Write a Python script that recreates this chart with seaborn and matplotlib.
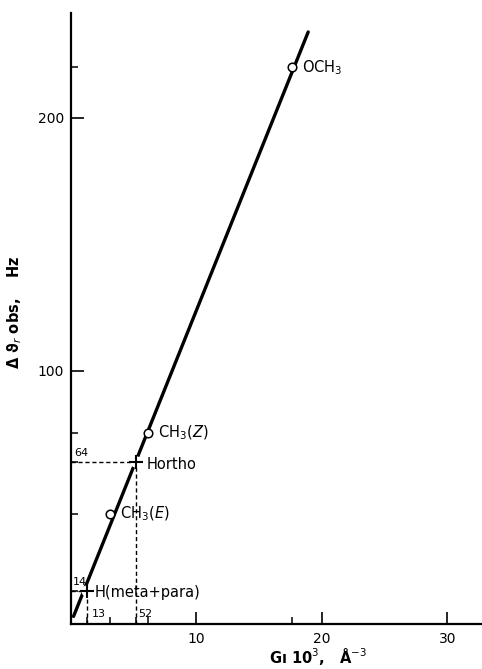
import matplotlib
matplotlib.use("Agg")
import matplotlib.pyplot as plt
import seaborn as sns
import pandas as pd
from matplotlib.ticker import FixedLocator

# ---- data ----
open_labels = ["OCH$_3$", "CH$_3$($Z$)", "CH$_3$($E$)"]
open_x = [17.6, 6.1, 3.1]
open_y = [220.0, 75.5, 43.5]

cross_labels = ["Hortho", "H(meta+para)"]
cross_x = [5.2, 1.3]
cross_y = [64.0, 13.0]
cross_value_labels_y = ["64", "14"]
cross_value_labels_x = ["52", "13"]

line_x = [0.2, 18.9]
line_y = [3.0, 234.0]

x_major = [10, 20, 30]
y_major = [100, 200]
x_minor = [1.3, 3.1, 5.2, 6.1, 17.6]
y_minor = [13.0, 43.5, 64.0, 75.5, 220.0]

# ---- figure ----
sns.set_theme(style="ticks")
plt.rcParams["font.family"] = ["DejaVu Sans"]
plt.rcParams["text.color"] = "black"
plt.rcParams["axes.labelcolor"] = "black"

fig = plt.figure(figsize=(4.82, 6.69), dpi=100)
ax = fig.add_axes([71 / 482, 1 - 624 / 669, 411 / 482, 611 / 669])

line_df = pd.DataFrame({"x": line_x, "y": line_y})
sns.lineplot(data=line_df, x="x", y="y", ax=ax, color="black", lw=2.4, zorder=2)

# dashed guide lines for the H points
for cx, cy in zip(cross_x, cross_y):
    ax.plot([0, cx], [cy, cy], ls=(0, (3, 2)), color="black", lw=1.0, zorder=1)
    ax.plot([cx, cx], [0, cy], ls=(0, (3, 2)), color="black", lw=1.0, zorder=1)

cross_df = pd.DataFrame({"x": cross_x, "y": cross_y})
# small white gap behind the crosses
sns.scatterplot(data=cross_df, x="x", y="y", ax=ax, marker="o", s=70,
                color="white", edgecolor="none", linewidth=0, zorder=3)
sns.scatterplot(data=cross_df, x="x", y="y", ax=ax, marker="+", s=110,
                color="black", linewidth=1.5, zorder=4)

open_df = pd.DataFrame({"x": open_x, "y": open_y})
sns.scatterplot(data=open_df, x="x", y="y", ax=ax, marker="o", s=38,
                facecolor="white", edgecolor="black", linewidth=1.1, zorder=5)

# labels of points
fs = 10.5
ax.text(open_x[0] + 0.8, open_y[0], open_labels[0], fontsize=fs, va="center", ha="left")
ax.text(open_x[1] + 0.8, open_y[1], open_labels[1], fontsize=fs, va="center", ha="left")
ax.text(open_x[2] + 0.8, open_y[2], open_labels[2], fontsize=fs, va="center", ha="left")
ax.text(cross_x[0] + 0.8, cross_y[0] - 1.0, cross_labels[0], fontsize=fs, va="center", ha="left")
ax.text(cross_x[1] + 0.6, cross_y[1] - 0.5, cross_labels[1], fontsize=fs, va="center", ha="left")

# small value annotations
sfs = 8
ax.text(0.25, cross_y[0] + 1.5, cross_value_labels_y[0], fontsize=sfs, va="bottom", ha="left")
ax.text(0.15, cross_y[1] + 1.5, cross_value_labels_y[1], fontsize=sfs, va="bottom", ha="left")
ax.text(cross_x[0] + 0.15, 2.0, cross_value_labels_x[0], fontsize=sfs, va="bottom", ha="left")
ax.text(cross_x[1] + 0.35, 2.0, cross_value_labels_x[1], fontsize=sfs, va="bottom", ha="left")

# axes styling
ax.set_xlim(0, 32.75)
ax.set_ylim(0, 241.5)
sns.despine(ax=ax, top=True, right=True)
for side in ("left", "bottom"):
    ax.spines[side].set_linewidth(1.6)
    ax.spines[side].set_color("black")

ax.xaxis.set_major_locator(FixedLocator(x_major))
ax.yaxis.set_major_locator(FixedLocator(y_major))
ax.xaxis.set_minor_locator(FixedLocator(x_minor))
ax.yaxis.set_minor_locator(FixedLocator(y_minor))
ax.tick_params(which="major", direction="in", length=9, width=1.2, labelsize=10,
               color="black", labelcolor="black", pad=5)
ax.tick_params(which="minor", direction="in", length=5, width=1.1, color="black")
ax.tick_params(axis="x", which="major", pad=6)

ax.set_xlabel(r"Gı 10$^3$,   Å$^{-3}$", fontsize=10.5, fontweight="bold")
ax.set_ylabel(r"Δ ϑ$_r$ obs,    Hz", fontsize=10.5, fontweight="bold")
ax.xaxis.set_label_coords(0.60, -0.036)
ax.yaxis.set_label_coords(-0.115, 0.51)
ax.grid(False)
ax.set_facecolor("white")
fig.patch.set_facecolor("white")

fig.savefig("out.png", dpi=100)
